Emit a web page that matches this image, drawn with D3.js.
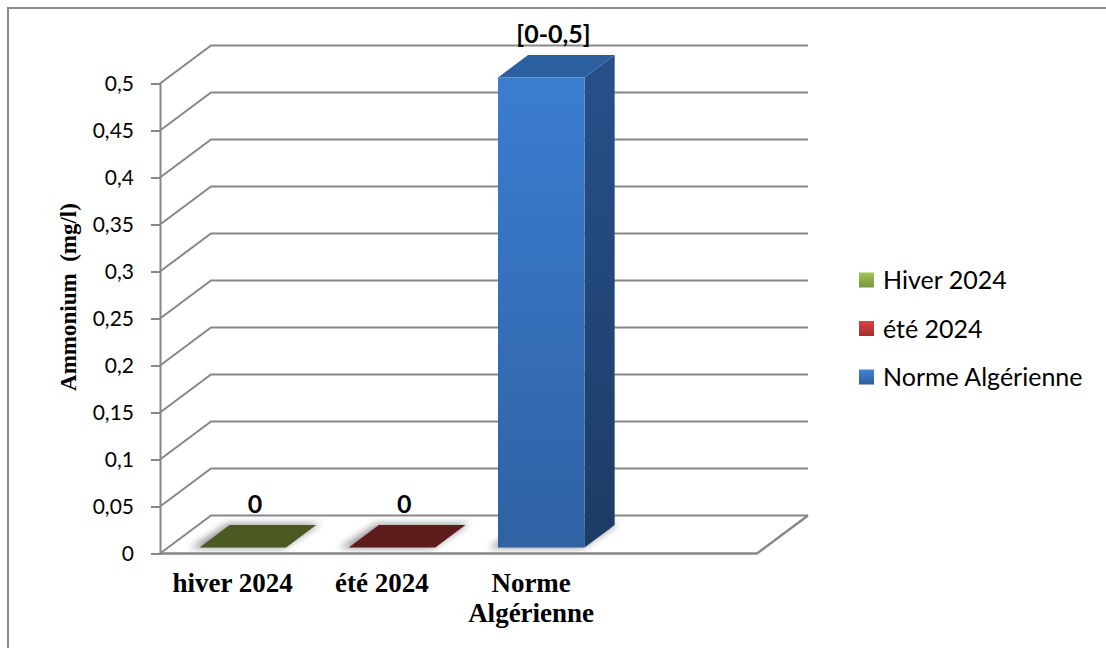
<!DOCTYPE html>
<html>
<head>
<meta charset="utf-8">
<script src="https://cdn.jsdelivr.net/npm/d3@7"></script>
<style>
  html, body { margin: 0; padding: 0; background: #fff; overflow: hidden; }
  svg { display: block; }
</style>
</head>
<body>
<svg id="chart" width="1106" height="648"></svg>
<script>
// Ammonium concentration compared with the Algerian standard
const categories = ["hiver 2024", "été 2024", "Norme Algérienne", ""];
const seriesNames = ["Hiver 2024", "été 2024", "Norme Algérienne"];
const values = [0, 0, 0.5];
const valueLabels = ["0", "0", "[0-0,5]"];
const yTicks = [0, 0.05, 0.1, 0.15, 0.2, 0.25, 0.3, 0.35, 0.4, 0.45, 0.5];
const yTitle = "Ammonium  (mg/l)";

// face colours per series: [top, frontTop, frontBottom, sideTop, sideBottom]
const faceColors = [
  ["#4b5a22", "#6e8a32", "#55702a", "#4a5d22", "#3a4a1a"],
  ["#5e1b1b", "#a83232", "#862626", "#6e1e1e", "#561717"],
  ["#2c5f9f", "#3a7dd0", "#2f61a3", "#27508a", "#1d3c66"]
];
const legendColors = [
  ["#9fc35a", "#77973a"],
  ["#d64545", "#a82d2d"],
  ["#4284d4", "#2c5c9c"]
];

const svg = d3.select("#chart");
const gridColor = "#878787";

// outer frame (right and bottom edges run off the canvas)
svg.append("rect")
  .attr("x", 8).attr("y", 8)
  .attr("width", 1120).attr("height", 660)
  .attr("fill", "none").attr("stroke", "#8a8a8a").attr("stroke-width", 2);

// plot geometry (front-left origin plus oblique depth)
const x0 = 160, x1 = 757;
const DX = 51, DY = 38;

const x = d3.scaleBand()
  .domain(d3.range(categories.length))
  .range([x0, x1])
  .paddingInner(0.42)
  .paddingOuter(0.21);

const y = d3.scaleLinear().domain([0, 0.5]).range([553.5, 83.5]);

// project (screen x on front plane, value, depth 0..1) to screen coordinates
const P = (px, v, z) => [px + z * DX, y(v) - z * DY];

const defs = svg.append("defs");
const blur = defs.append("filter").attr("id", "soft")
  .attr("x", "-30%").attr("y", "-60%").attr("width", "160%").attr("height", "220%");
blur.append("feGaussianBlur").attr("stdDeviation", 3.5);

faceColors.forEach((c, i) => {
  const gf = defs.append("linearGradient").attr("id", "front" + i)
    .attr("x1", 0).attr("y1", 0).attr("x2", 0).attr("y2", 1);
  gf.append("stop").attr("offset", "0%").attr("stop-color", c[1]);
  gf.append("stop").attr("offset", "100%").attr("stop-color", c[2]);
  const gs = defs.append("linearGradient").attr("id", "side" + i)
    .attr("x1", 0).attr("y1", 0).attr("x2", 0).attr("y2", 1);
  gs.append("stop").attr("offset", "0%").attr("stop-color", c[3]);
  gs.append("stop").attr("offset", "100%").attr("stop-color", c[4]);
});
legendColors.forEach((c, i) => {
  const g = defs.append("linearGradient").attr("id", "leg" + i)
    .attr("x1", 0).attr("y1", 0).attr("x2", 0).attr("y2", 1);
  g.append("stop").attr("offset", "0%").attr("stop-color", c[0]);
  g.append("stop").attr("offset", "100%").attr("stop-color", c[1]);
});

const line = d3.line();

// back-wall gridlines with their oblique side-wall segments
const grid = svg.append("g");
yTicks.forEach(t => {
  grid.append("path")
    .attr("d", line([P(x0, t, 0), P(x0, t, 1), P(x1, t, 1)]))
    .attr("fill", "none").attr("stroke", gridColor).attr("stroke-width", 2);
});

// floor: front edge and right edge
grid.append("path")
  .attr("d", line([P(x0, 0, 0), P(x1, 0, 0), P(x1, 0, 1)]))
  .attr("fill", "none").attr("stroke", gridColor).attr("stroke-width", 2.5)
  .attr("stroke-linejoin", "round");

// value axis
const yAxis = d3.axisLeft(y)
  .tickValues(yTicks)
  .tickSize(9)
  .tickPadding(17)
  .tickFormat(d => String(+d.toFixed(2)).replace(".", ","));
const ya = svg.append("g").attr("transform", `translate(${x0},0)`).call(yAxis);
ya.select(".domain").attr("stroke", gridColor).attr("stroke-width", 2);
ya.selectAll(".tick line").attr("stroke", gridColor).attr("stroke-width", 2);
ya.selectAll(".tick text")
  .attr("fill", "#000")
  .style("font-family", "Lato, 'Open Sans', sans-serif")
  .style("font-size", "21px");

// bars
const z0 = 0.16, z1 = 0.75;
const bars = svg.append("g");
values.forEach((v, i) => {
  const L = x(i), R = x(i) + x.bandwidth();
  const g = bars.append("g");
  // soft floor shadow
  g.append("path")
    .attr("d", line([P(L - 9, 0, z0 - 0.02), P(R - 2, 0, z0 - 0.02), P(R + 2, 0, z1 + 0.04), P(L - 4, 0, z1 + 0.04)]) + "Z")
    .attr("fill", "#7a7a7a").attr("opacity", 0.75).attr("filter", "url(#soft)");
  if (v > 0) {
    g.append("path")
      .attr("d", line([P(R, 0, z0), P(R, 0, z1), P(R, v, z1), P(R, v, z0)]) + "Z")
      .attr("fill", `url(#side${i})`);
    g.append("path")
      .attr("d", line([P(L, v, z0), P(R, v, z0), P(R, v, z1), P(L, v, z1)]) + "Z")
      .attr("fill", faceColors[i][0]);
    g.append("path")
      .attr("d", line([P(L, 0, z0), P(R, 0, z0), P(R, v, z0), P(L, v, z0)]) + "Z")
      .attr("fill", `url(#front${i})`);
  } else {
    g.append("path")
      .attr("d", line([P(L, 0, z0), P(R, 0, z0), P(R, 0, z1), P(L, 0, z1)]) + "Z")
      .attr("fill", faceColors[i][0]);
  }
});

// value labels
svg.append("g").selectAll("text")
  .data(values)
  .join("text")
  .attr("x", (v, i) => P(x(i) + x.bandwidth() / 2, v, 0.4)[0])
  .attr("y", v => P(0, v, 0.5)[1] - 22)
  .attr("text-anchor", "middle")
  .style("font-family", "Lato, 'Open Sans', sans-serif")
  .style("font-weight", "bold")
  .style("font-size", "25px")
  .text((v, i) => valueLabels[i]);

// category labels, wrapped to the band width
const catG = svg.append("g");
categories.forEach((c, i) => {
  if (!c) return;
  const cx = x(i) + x.bandwidth() / 2 - 2;
  const t = catG.append("text")
    .attr("x", cx).attr("y", 592)
    .attr("text-anchor", "middle")
    .style("font-family", "'Liberation Serif', 'Times New Roman', serif")
    .style("font-weight", "bold")
    .style("font-size", "27px")
    .text(c);
  if (t.node().getComputedTextLength() > x.step()) {
    const words = c.split(" ");
    t.text(null);
    words.forEach((w, k) => {
      t.append("tspan").attr("x", cx).attr("dy", k === 0 ? 0 : 30).text(w);
    });
  }
});

// value axis title
svg.append("text")
  .attr("transform", `translate(76,297) rotate(-90)`)
  .attr("text-anchor", "middle")
  .attr("xml:space", "preserve")
  .style("white-space", "pre")
  .style("font-family", "'Liberation Serif', 'Times New Roman', serif")
  .style("font-weight", "bold")
  .style("font-size", "23px")
  .text(yTitle);

// legend
const legend = svg.append("g");
seriesNames.forEach((s, i) => {
  const cy = 280 + i * 48.5;
  legend.append("rect")
    .attr("x", 859).attr("y", cy - 7.5)
    .attr("width", 15).attr("height", 15)
    .attr("fill", `url(#leg${i})`);
  legend.append("text")
    .attr("x", 883).attr("y", cy)
    .attr("dy", "0.36em")
    .style("font-family", "Lato, 'Open Sans', sans-serif")
    .style("font-size", "25px")
    .text(s);
});
</script>
</body>
</html>
